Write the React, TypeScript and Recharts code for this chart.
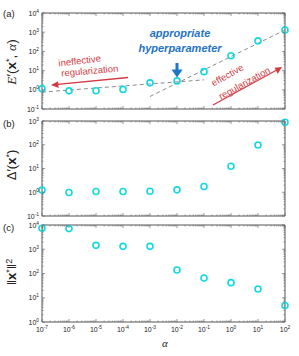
import React from 'react';
import { ComposedChart, Line, XAxis, YAxis, ReferenceArea } from 'recharts';

// regularization strength (x axis)
const alphas = [1e-7, 1e-6, 1e-5, 1e-4, 1e-3, 1e-2, 1e-1, 1, 10, 100];
// (a) energy E'(x*, alpha)
const energy = [1.15, 0.88, 0.9, 1.05, 2.3, 2.9, 8.8, 59, 355, 1300];
// (a) dashed trend lines, only defined at their end points
const fitLow: (number | null)[] = [0.76, null, null, null, null, null, 3.3, null, null, null];
const fitHigh: (number | null)[] = [null, null, null, null, 0.45, null, null, null, null, 1300];
// (b) Delta'(x*)
const delta = [1.23, 0.98, 1.07, 1.07, 1.1, 1.26, 1.75, 12.5, 98, 890];
// (c) ||x*||^2
const normSq = [7300, 7100, 1450, 1320, 1320, 140, 65, 42, 23, 4.8];

const xExponents = [-7, -6, -5, -4, -3, -2, -1, 0, 1, 2];
const yExpA = [-1, 0, 1, 2, 3, 4];
const yExpB = [-1, 0, 1, 2, 3];
const yExpC = [0, 1, 2, 3, 4];

const rows = alphas.map((a, i) => ({
  alpha: a,
  energy: energy[i],
  fitLow: fitLow[i],
  fitHigh: fitHigh[i],
  delta: delta[i],
  normSq: normSq[i],
}));

const PLOT_LEFT = 42;
const PLOT_RIGHT = 285;
const CYAN = '#12d8e2';
const RED = '#d23a44';
const BLUE = '#1f74c4';
const AXIS = '#6a6a6a';

// major + minor tick values for a log axis
function logTicks(exps: number[]) {
  const out: number[] = [];
  exps.forEach((e, i) => {
    out.push(Math.pow(10, e));
    if (i < exps.length - 1) {
      for (let m = 2; m <= 9; m++) out.push(m * Math.pow(10, e));
    }
  });
  return out;
}

function expOf(v: number) {
  const e = Math.log10(v);
  return Math.abs(e - Math.round(e)) < 1e-6 ? Math.round(e) : null;
}

function makeXTick(top: number, bottom: number, labels: boolean) {
  return (props: any) => {
    const { x, payload } = props;
    const e = expOf(payload.value);
    const len = e !== null ? 3 : 1.5;
    return (
      <g>
        <line x1={x} x2={x} y1={bottom} y2={bottom - len} stroke={AXIS} strokeWidth={0.7} />
        <line x1={x} x2={x} y1={top} y2={top + len} stroke={AXIS} strokeWidth={0.7} />
        {labels && e !== null && (
          <text x={x} y={bottom + 9.5} textAnchor="middle" fontSize={7} fill="#222">
            10<tspan dy={-3} fontSize={4.8}>{e}</tspan>
          </text>
        )}
      </g>
    );
  };
}

function YTick(props: any) {
  const { y, payload } = props;
  const e = expOf(payload.value);
  const len = e !== null ? 3 : 1.5;
  return (
    <g>
      <line x1={PLOT_LEFT} x2={PLOT_LEFT + len} y1={y} y2={y} stroke={AXIS} strokeWidth={0.7} />
      <line x1={PLOT_RIGHT} x2={PLOT_RIGHT - len} y1={y} y2={y} stroke={AXIS} strokeWidth={0.7} />
      {e !== null && (
        <text x={39} y={y + 2.5} textAnchor="end" fontSize={7} fill="#222">
          10<tspan dy={-3} fontSize={4.8}>{e}</tspan>
        </text>
      )}
    </g>
  );
}

const dot = { r: 3, stroke: CYAN, strokeWidth: 1.6, fill: 'none' };

interface PanelProps {
  offset: number;
  top: number;
  plotH: number;
  xAxisH: number;
  yExps: number[];
  labels: boolean;
  children: React.ReactNode;
}

function Panel({ offset, top, plotH, xAxisH, yExps, labels, children }: PanelProps) {
  const yDomain = [Math.pow(10, yExps[0]), Math.pow(10, yExps[yExps.length - 1])];
  return (
    <div style={{ position: 'absolute', left: 0, top: offset }}>
      <ComposedChart
        width={299}
        height={top + plotH + xAxisH}
        data={rows}
        margin={{ top, right: 299 - PLOT_RIGHT, left: 0, bottom: 0 }}
      >
        <XAxis
          dataKey="alpha"
          type="number"
          scale="log"
          domain={[1e-7, 100]}
          ticks={logTicks(xExponents)}
          interval={0}
          height={xAxisH}
          axisLine={false}
          tickLine={false}
          tick={makeXTick(top, top + plotH, labels)}
        />
        <YAxis
          type="number"
          scale="log"
          domain={yDomain}
          ticks={logTicks(yExps)}
          interval={0}
          width={PLOT_LEFT}
          axisLine={false}
          tickLine={false}
          tick={YTick}
        />
        <ReferenceArea
          x1={1e-7}
          x2={100}
          y1={yDomain[0]}
          y2={yDomain[1]}
          fill="none"
          stroke="#555"
          strokeWidth={1}
          ifOverflow="visible"
        />
        {children}
      </ComposedChart>
    </div>
  );
}

export default function App() {
  return (
    <div
      style={{
        position: 'absolute',
        left: 0,
        top: 0,
        width: 299,
        height: 356,
        background: '#fff',
        fontFamily: '"Liberation Sans", Arial, sans-serif',
      }}
    >
      <Panel offset={0} top={13} plotH={96} xAxisH={6} yExps={yExpA} labels={false}>
        <Line dataKey="fitLow" connectNulls stroke="#8a8a8a" strokeDasharray="4 3" dot={false} isAnimationActive={false} />
        <Line dataKey="fitHigh" connectNulls stroke="#8a8a8a" strokeDasharray="4 3" dot={false} isAnimationActive={false} />
        <Line dataKey="energy" stroke="none" dot={dot} isAnimationActive={false} />
      </Panel>
      <Panel offset={110} top={11} plotH={95} xAxisH={4} yExps={yExpB} labels={false}>
        <Line dataKey="delta" stroke="none" dot={dot} isAnimationActive={false} />
      </Panel>
      <Panel offset={218} top={7} plotH={97} xAxisH={16} yExps={yExpC} labels={true}>
        <Line dataKey="normSq" stroke="none" dot={dot} isAnimationActive={false} />
      </Panel>

      <svg
        width={299}
        height={356}
        style={{ position: 'absolute', left: 0, top: 0, pointerEvents: 'none' }}
      >
        {/* panel letters */}
        <text x={3} y={17} fontSize={9.5} fill="#222">(a)</text>
        <text x={3} y={127} fontSize={9.5} fill="#222">(b)</text>
        <text x={3} y={231} fontSize={9.5} fill="#222">(c)</text>

        {/* axis titles */}
        <text transform="translate(16,62) rotate(-90)" textAnchor="middle" fontSize={13.5} fill="#222">
          <tspan fontFamily='"Liberation Serif", serif' fontStyle="italic">E</tspan>
          <tspan>′(</tspan>
          <tspan fontWeight="bold">x</tspan>
          <tspan dy={-4.5} fontSize={9}>*</tspan>
          <tspan dy={4.5}>, </tspan>
          <tspan fontFamily='"Liberation Serif", serif' fontStyle="italic">α</tspan>
          <tspan>)</tspan>
        </text>
        <text transform="translate(16,165) rotate(-90)" textAnchor="middle" fontSize={13} fill="#222">
          <tspan>Δ′(</tspan>
          <tspan fontWeight="bold">x</tspan>
          <tspan dy={-4.5} fontSize={9}>*</tspan>
          <tspan dy={4.5}>)</tspan>
        </text>
        <text transform="translate(16,272) rotate(-90)" textAnchor="middle" fontSize={13} fill="#222">
          <tspan>‖</tspan>
          <tspan fontWeight="bold">x</tspan>
          <tspan dy={-4.5} fontSize={9}>*</tspan>
          <tspan dy={4.5}>‖</tspan>
          <tspan dy={-4.5} fontSize={9}>2</tspan>
        </text>
        <text x={165} y={347} textAnchor="middle" fontSize={11} fontStyle="italic" fontFamily='"Liberation Serif", serif' fill="#222">α</text>

        {/* appropriate hyperparameter */}
        <text x={180} y={37} textAnchor="middle" fontSize={11} fontWeight="bold" fontStyle="italic" fill={BLUE}>appropriate</text>
        <text x={180} y={52} textAnchor="middle" fontSize={11} fontWeight="bold" fontStyle="italic" fill={BLUE}>hyperparameter</text>
        <rect x={175.5} y={63} width={3} height={8} fill={BLUE} />
        <polygon points="171.5,69.5 182.5,69.5 177,77.5" fill={BLUE} />

        {/* ineffective regularization */}
        <text transform="translate(80,64) rotate(-7)" textAnchor="middle" fontSize={9.5} fill={RED}>ineffective</text>
        <text transform="translate(90,74) rotate(-5)" textAnchor="middle" fontSize={9.5} fill={RED}>regularization</text>
        <line x1={128} y1={77.5} x2={55} y2={84.6} stroke={RED} strokeWidth={1.3} />
        <polygon points="51,85 58,81.3 58.7,88" fill={RED} />

        {/* effective regularization */}
        <text transform="translate(229,78) rotate(-29)" textAnchor="middle" fontSize={9.5} fill={RED}>effective</text>
        <text transform="translate(246,86) rotate(-29)" textAnchor="middle" fontSize={9.5} fill={RED}>regularization</text>
        <line x1={213} y1={105} x2={279} y2={68.7} stroke={RED} strokeWidth={1.3} />
        <polygon points="282,67 274.5,67.8 277.8,73.8" fill={RED} />
      </svg>
    </div>
  );
}
